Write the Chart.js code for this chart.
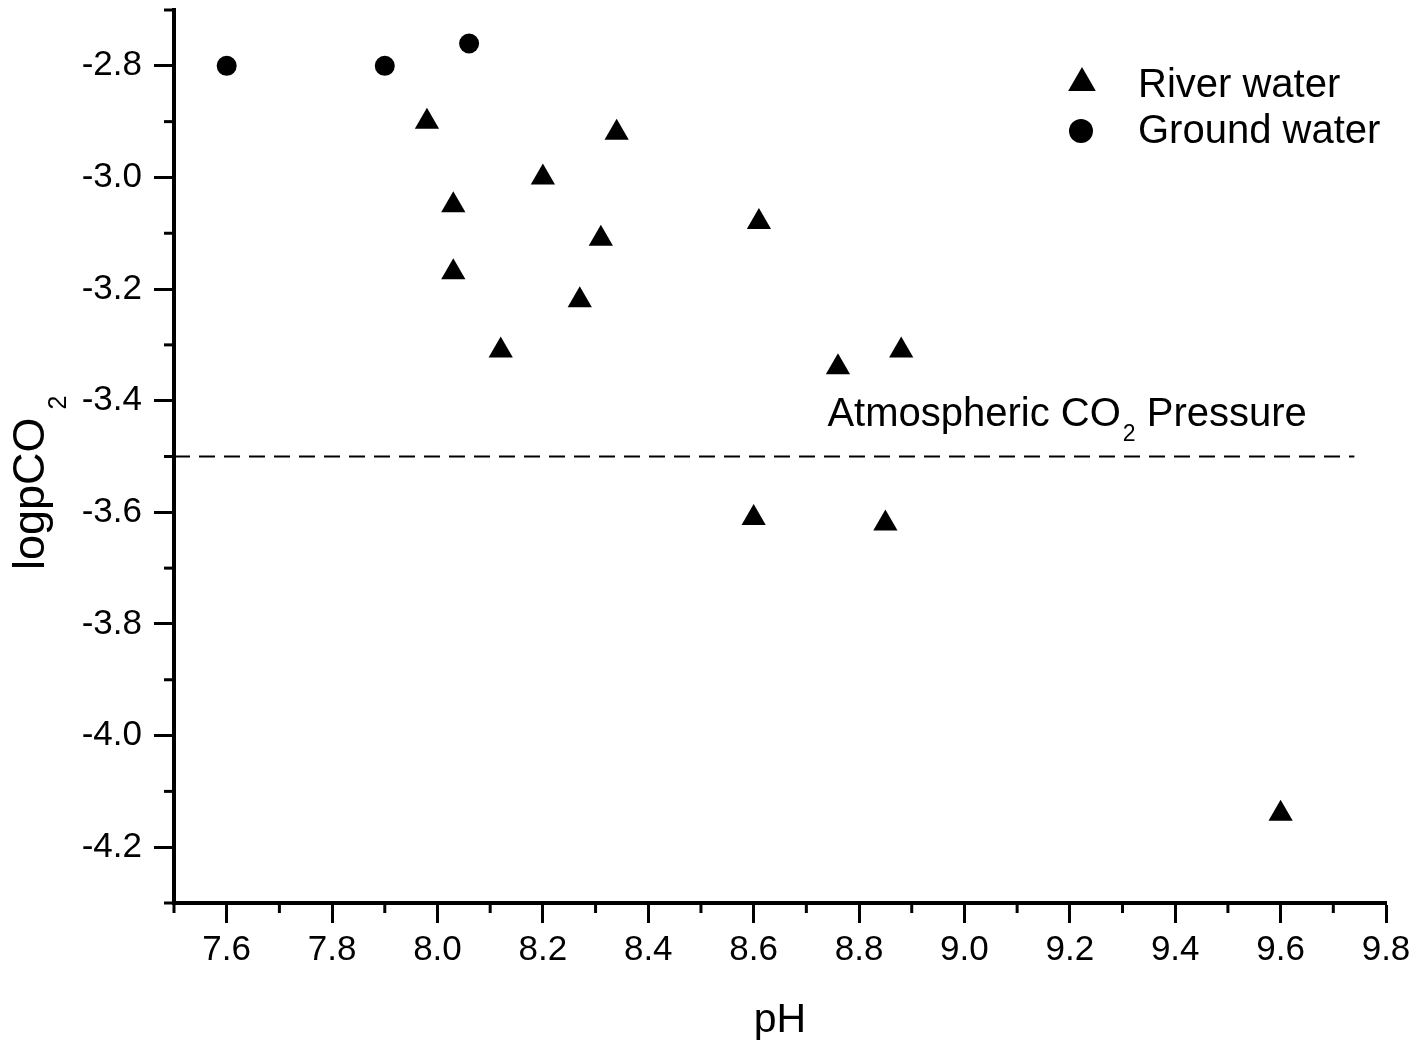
<!DOCTYPE html>
<html>
<head>
<meta charset="utf-8">
<script src="https://cdn.jsdelivr.net/npm/chart.js@4.4.1/dist/chart.umd.min.js"></script>
<style>
  html, body { margin: 0; padding: 0; background: #fff; }
  #wrap { width: 1416px; height: 1044px; }
</style>
</head>
<body>
<div id="wrap"><canvas id="grafico"></canvas></div>
<script>
// valores
var riverPH   = [7.98, 8.34, 8.20, 8.03, 8.61, 8.31, 8.03, 8.27, 8.12, 8.88, 8.76, 8.60, 8.85, 9.60];
var riverPCO2 = [-2.90, -2.92, -3.00, -3.05, -3.08, -3.11, -3.17, -3.22, -3.31, -3.31, -3.34, -3.61, -3.62, -4.14];
var groundPH   = [7.60, 7.90, 8.06];
var groundPCO2 = [-2.80, -2.80, -2.76];
var atmPH   = [7.50, 9.74];
var atmPCO2 = -3.5;

var seriesLabels = ['River water', 'Ground water'];
var xTicks = [7.6, 7.8, 8.0, 8.2, 8.4, 8.6, 8.8, 9.0, 9.2, 9.4, 9.6, 9.8];
var xMinor = [7.5, 7.7, 7.9, 8.1, 8.3, 8.5, 8.7, 8.9, 9.1, 9.3, 9.5, 9.7];
var yTicks = [-2.8, -3.0, -3.2, -3.4, -3.6, -3.8, -4.0, -4.2];
var yMinor = [-2.7, -2.9, -3.1, -3.3, -3.5, -3.7, -3.9, -4.1, -4.3];

var fuente = "'Liberation Sans', Arial, sans-serif";

function puntos(xs, ys) {
  return xs.map(function (x, i) { return { x: x, y: ys[i] }; });
}

function triangulo(ctx, x, y, r) {
  ctx.beginPath();
  ctx.moveTo(x, y - r);
  ctx.lineTo(x + Math.sin(2 * Math.PI / 3) * r, y + r / 2);
  ctx.lineTo(x - Math.sin(2 * Math.PI / 3) * r, y + r / 2);
  ctx.closePath();
  ctx.fill();
}

// ticks menores, textos y leyenda
var decoracion = {
  id: 'decoracion',
  afterDraw: function (chart) {
    var ctx = chart.ctx;
    var area = chart.chartArea;
    var xs = chart.scales.x, ys = chart.scales.y;
    ctx.save();
    ctx.strokeStyle = '#000';
    ctx.fillStyle = '#000';
    ctx.lineWidth = 3;

    xMinor.forEach(function (v) {
      var px = xs.getPixelForValue(v);
      ctx.beginPath();
      ctx.moveTo(px, area.bottom);
      ctx.lineTo(px, area.bottom + 10);
      ctx.stroke();
    });
    yMinor.forEach(function (v) {
      var py = ys.getPixelForValue(v);
      ctx.beginPath();
      ctx.moveTo(area.left - 10, py);
      ctx.lineTo(area.left, py);
      ctx.stroke();
    });

    // texto de la linea atmosferica
    var lineY = ys.getPixelForValue(atmPCO2);
    var tx = xs.getPixelForValue(8.74);
    var ty = lineY - 31;
    ctx.textBaseline = 'alphabetic';
    ctx.textAlign = 'left';
    ctx.font = '40px ' + fuente;
    ctx.fillText('Atmospheric CO', tx, ty);
    tx += ctx.measureText('Atmospheric CO').width + 2;
    ctx.font = '23px ' + fuente;
    ctx.fillText('2', tx, ty + 15);
    tx += ctx.measureText('2').width;
    ctx.font = '40px ' + fuente;
    ctx.fillText(' Pressure', tx, ty);

    // titulo eje x
    ctx.font = '41px ' + fuente;
    ctx.textAlign = 'center';
    ctx.fillText('pH', (area.left + area.right) / 2, 1032);

    // titulo eje y
    ctx.save();
    ctx.translate(44, 570);
    ctx.rotate(-Math.PI / 2);
    ctx.textAlign = 'left';
    ctx.font = '45px ' + fuente;
    ctx.fillText('logpCO', 0, 0);
    var w = ctx.measureText('logpCO').width;
    ctx.font = '25px ' + fuente;
    ctx.fillText('2', w + 8, 22);
    ctx.restore();

    // leyenda
    triangulo(ctx, 1082, 83, 16);
    ctx.beginPath();
    ctx.arc(1081, 131, 12, 0, Math.PI * 2);
    ctx.fill();
    ctx.font = '40px ' + fuente;
    ctx.textAlign = 'left';
    ctx.fillText(seriesLabels[0], 1138, 97);
    ctx.fillText(seriesLabels[1], 1138, 143);
    ctx.restore();
  }
};

var ctx = document.getElementById('grafico').getContext('2d');
var grafico = new Chart(ctx, {
  type: 'scatter',
  data: {
    datasets: [
      {
        label: seriesLabels[0],
        data: puntos(riverPH, riverPCO2),
        pointStyle: 'triangle',
        pointRadius: 14,
        pointHoverRadius: 14,
        backgroundColor: '#000',
        borderWidth: 0
      },
      {
        label: seriesLabels[1],
        data: puntos(groundPH, groundPCO2),
        pointStyle: 'circle',
        pointRadius: 10,
        pointHoverRadius: 10,
        backgroundColor: '#000',
        borderWidth: 0
      },
      {
        type: 'line',
        label: 'Atmospheric CO2 Pressure',
        data: atmPH.map(function (x) { return { x: x, y: atmPCO2 }; }),
        borderColor: '#000',
        borderWidth: 2,
        borderDash: [16, 9],
        pointRadius: 0,
        fill: false,
        showLine: true
      }
    ]
  },
  options: {
    responsive: true,
    maintainAspectRatio: false,
    animation: false,
    layout: { autoPadding: false, padding: { top: 10, right: 30, left: 0, bottom: 0 } },
    plugins: {
      legend: { display: false },
      tooltip: { enabled: false }
    },
    scales: {
      x: {
        type: 'linear',
        min: 7.5,
        max: 9.8,
        afterBuildTicks: function (s) { s.ticks = xTicks.map(function (v) { return { value: v }; }); },
        afterFit: function (s) { s.height = 141; s.paddingLeft = 0; s.paddingRight = 0; },
        grid: { drawOnChartArea: false, drawTicks: true, tickLength: 20, tickWidth: 3, tickColor: '#000' },
        border: { display: true, color: '#000', width: 4 },
        ticks: {
          color: '#000',
          font: { family: fuente, size: 35 },
          padding: 6,
          maxRotation: 0,
          autoSkip: false,
          callback: function (v) { return Number(v).toFixed(1); }
        }
      },
      y: {
        type: 'linear',
        min: -4.3,
        max: -2.7,
        afterBuildTicks: function (s) { s.ticks = yTicks.map(function (v) { return { value: v }; }); },
        afterFit: function (s) { s.width = 174; s.paddingTop = 0; s.paddingBottom = 0; },
        grid: { drawOnChartArea: false, drawTicks: true, tickLength: 20, tickWidth: 3, tickColor: '#000' },
        border: { display: true, color: '#000', width: 4 },
        ticks: {
          color: '#000',
          font: { family: fuente, size: 35 },
          padding: 12,
          autoSkip: false,
          callback: function (v) { return Number(v).toFixed(1); }
        }
      }
    }
  },
  plugins: [decoracion]
});
</script>
</body>
</html>
